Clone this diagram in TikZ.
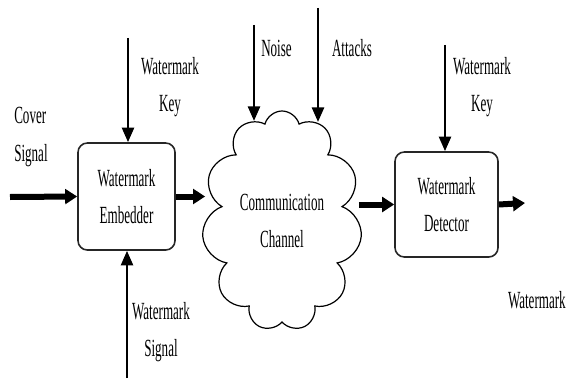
\documentclass[tikz,border=0pt]{standalone}
\usepackage{fontspec}
\setmainfont{Liberation Serif}[FakeStretch=0.53]
\usetikzlibrary{arrows.meta,shapes.symbols}

\begin{document}
\begin{tikzpicture}[x=0.75pt,y=-0.75pt]
	\tikzstyle{txt}=[align=center,inner sep=0pt,font=\fontsize{18.5}{28}\selectfont]
	\tikzstyle{block}=[txt,draw=black!85,line width=1.2pt,rounded corners=7pt]
	\tikzstyle{feedarrow}=[line width=2pt,-{Triangle[length=11pt,width=9pt]}]
	\tikzstyle{flowarrow}=[line width=4.5pt,-{Triangle[length=9pt,width=11pt]}]
	\useasboundingbox (0,0) rectangle (566,378);
	% blocks
	\node[block,minimum width=72.75pt,minimum height=80.25pt] (emb) at (126.5,196.5) {Watermark\\Embedder};
	\node[txt,cloud,cloud puffs=11,cloud ignores aspect,draw,line width=0.9pt,minimum width=120pt,minimum height=165pt] (chan) at (282,221) {Communication\\Channel};
	\node[block,minimum width=77.25pt,minimum height=78.75pt] (det) at (446.5,204.5) {Watermark\\Detector};
	% labels
	\node[txt,align=left,anchor=west] (cover) at (14,137) {Cover\\Signal};
	\node[txt] (keyA) at (170,87) {Watermark\\Key};
	\node[txt] (sig) at (161,332) {Watermark\\Signal};
	\node[txt,anchor=west] (noise) at (261,48) {Noise};
	\node[txt] (attack) at (352,48) {Attacks};
	\node[txt] (keyB) at (482,87) {Watermark\\Key};
	\node[txt,anchor=east] (wm) at (566,300) {Watermark};
	% free ends
	\coordinate (cin) at (10,197);
	\coordinate (keyAtop) at (128,38);
	\coordinate (sigbot) at (127,378);
	\coordinate (noisetop) at (254,25);
	\coordinate (attacktop) at (318,8);
	\coordinate (keyBtop) at (445,45);
	\coordinate (out) at (525,203);
	% arrows
	\draw[flowarrow] (cin) -- (emb.west);
	\draw[feedarrow] (keyAtop) -- (keyAtop |- emb.north);
	\draw[feedarrow] (sigbot) -- (sigbot |- emb.south);
	\draw[flowarrow] (emb.east) -- (emb.east -| chan.west);
	\draw[feedarrow] (noisetop) -- (noisetop |- chan.106);
	\draw[feedarrow] (attacktop) -- (attacktop |- chan.71);
	\draw[flowarrow] (det.west -| chan.east) -- (det.west);
	\draw[feedarrow] (keyBtop) -- (keyBtop |- det.north);
	\draw[flowarrow] (det.east) -- (out);
\end{tikzpicture}
\end{document}
